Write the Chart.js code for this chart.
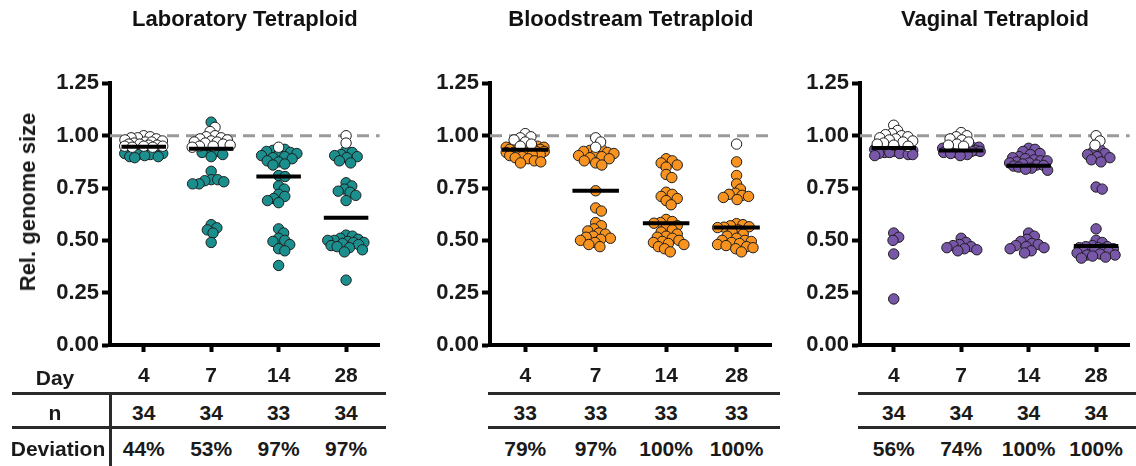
<!DOCTYPE html>
<html>
<head>
<meta charset="utf-8">
<script src="https://cdn.jsdelivr.net/npm/chart.js@4.4.1/dist/chart.umd.min.js"></script>
<style>
  body { margin: 0; background: #fff; }
  #wrap { position: relative; width: 1136px; height: 466px; overflow: hidden;
          font-family: "Liberation Sans", Arial, sans-serif; color: #1a1a1a; }
  #wrap canvas { position: absolute; top: 0; }
  .cell { position: absolute; font-weight: bold; font-size: 21px; white-space: nowrap;
          transform: translate(-50%, -50%); line-height: 1; }
  .rule { position: absolute; background: #2a2a2a; }
  .ytitle { position: absolute; font-weight: bold; font-size: 22px; white-space: nowrap;
            transform: translate(-50%, -50%) rotate(-90deg); line-height: 1; }
</style>
</head>
<body>
<div id="wrap">
  <canvas id="lab" width="386" height="392" style="left:0px"></canvas>
  <canvas id="blood" width="378" height="392" style="left:400px"></canvas>
  <canvas id="vag" width="366" height="392" style="left:770px"></canvas>
</div>
<script>
// sampling days and y ticks
const days = ['4', '7', '14', '28'];
const yTicks = [0, 0.25, 0.5, 0.75, 1.0, 1.25];

// Laboratory: white = euploid-like, coloured = shifted genome size
const labNormal = [
  [1.00, 0.995, 0.99, 0.99, 0.985, 0.98, 0.975, 0.97, 0.97, 0.965, 0.96, 0.96, 0.955, 0.955, 0.95, 0.95, 0.95, 0.945, 0.945],
  [1.04, 1.02, 1.00, 0.995, 0.99, 0.985, 0.98, 0.975, 0.97, 0.97, 0.965, 0.96, 0.955, 0.95, 0.95, 0.945],
  [0.945],
  [1.00, 0.965]
];
const labShifted = [
  [0.94, 0.935, 0.93, 0.93, 0.925, 0.92, 0.92, 0.915, 0.915, 0.91, 0.91, 0.905, 0.90, 0.90, 0.895],
  [1.065, 0.93, 0.925, 0.92, 0.91, 0.90, 0.83, 0.79, 0.79, 0.785, 0.78, 0.77, 0.77, 0.575, 0.56, 0.55, 0.535, 0.49],
  [0.935, 0.93, 0.925, 0.92, 0.915, 0.91, 0.905, 0.90, 0.895, 0.89, 0.88, 0.875, 0.865, 0.86, 0.81, 0.805,
   0.76, 0.745, 0.72, 0.71, 0.70, 0.69, 0.68, 0.555, 0.535, 0.51, 0.50, 0.495, 0.48, 0.46, 0.45, 0.38],
  [0.93, 0.92, 0.91, 0.905, 0.90, 0.895, 0.88, 0.87, 0.775, 0.76, 0.745, 0.735, 0.73, 0.715, 0.69,
   0.525, 0.52, 0.51, 0.505, 0.50, 0.50, 0.495, 0.49, 0.49, 0.485, 0.48, 0.475, 0.47, 0.465, 0.455, 0.445, 0.31]
];
const labN = [34, 34, 33, 34];
const labDeviation = ['44%', '53%', '97%', '97%'];

// Bloodstream
const bloodNormal = [
  [1.01, 0.995, 0.99, 0.98, 0.97, 0.96, 0.95],
  [0.99, 0.97, 0.945],
  [],
  [0.96]
];
const bloodShifted = [
  [0.95, 0.95, 0.945, 0.945, 0.94, 0.94, 0.94, 0.935, 0.935, 0.933, 0.93, 0.925, 0.925, 0.92, 0.92, 0.915,
   0.915, 0.91, 0.91, 0.905, 0.90, 0.895, 0.89, 0.88, 0.875, 0.87],
  [0.935, 0.93, 0.925, 0.92, 0.915, 0.91, 0.905, 0.90, 0.895, 0.89, 0.88, 0.87, 0.86, 0.737, 0.655, 0.64,
   0.585, 0.57, 0.555, 0.545, 0.535, 0.53, 0.52, 0.515, 0.51, 0.505, 0.50, 0.49, 0.48, 0.47],
  [0.89, 0.88, 0.87, 0.86, 0.85, 0.815, 0.80, 0.73, 0.72, 0.71, 0.70, 0.69, 0.67, 0.60, 0.59, 0.585, 0.582,
   0.57, 0.56, 0.55, 0.54, 0.53, 0.52, 0.515, 0.51, 0.50, 0.495, 0.49, 0.485, 0.48, 0.47, 0.46, 0.445],
  [0.875, 0.81, 0.77, 0.745, 0.725, 0.72, 0.715, 0.71, 0.705, 0.695, 0.58, 0.575, 0.57, 0.565, 0.563, 0.561,
   0.55, 0.54, 0.53, 0.52, 0.51, 0.50, 0.50, 0.495, 0.49, 0.485, 0.48, 0.475, 0.47, 0.465, 0.46, 0.445]
];
const bloodN = [33, 33, 33, 33];
const bloodDeviation = ['79%', '97%', '100%', '100%'];

// Vaginal
const vagNormal = [
  [1.05, 1.025, 1.01, 1.005, 1.00, 0.995, 0.99, 0.985, 0.98, 0.975, 0.97, 0.965, 0.96, 0.955, 0.95],
  [1.015, 1.00, 0.995, 0.985, 0.98, 0.97, 0.96, 0.955, 0.95],
  [],
  [1.00, 0.975, 0.955]
];
const vagShifted = [
  [0.945, 0.942, 0.94, 0.935, 0.93, 0.93, 0.925, 0.92, 0.92, 0.915, 0.915, 0.91, 0.91, 0.905,
   0.535, 0.515, 0.50, 0.435, 0.22],
  [0.945, 0.945, 0.94, 0.94, 0.935, 0.935, 0.93, 0.93, 0.928, 0.925, 0.925, 0.92, 0.92, 0.915, 0.91, 0.905,
   0.51, 0.49, 0.48, 0.475, 0.47, 0.465, 0.46, 0.455, 0.45],
  [0.94, 0.935, 0.925, 0.915, 0.91, 0.90, 0.895, 0.89, 0.885, 0.88, 0.88, 0.875, 0.87, 0.87, 0.865, 0.86,
   0.858, 0.855, 0.85, 0.845, 0.84, 0.835,
   0.535, 0.52, 0.505, 0.495, 0.485, 0.48, 0.475, 0.47, 0.465, 0.46, 0.45, 0.44],
  [0.935, 0.925, 0.915, 0.91, 0.90, 0.895, 0.885, 0.875, 0.755, 0.745, 0.555,
   0.50, 0.49, 0.475, 0.47, 0.47, 0.465, 0.465, 0.46, 0.46, 0.455, 0.45, 0.45, 0.445, 0.44, 0.435, 0.43,
   0.43, 0.425, 0.42, 0.415]
];
const vagN = [34, 34, 34, 34];
const vagDeviation = ['56%', '74%', '100%', '100%'];

const font = '"Liberation Sans", Arial, sans-serif';
Chart.defaults.font.family = font;
Chart.defaults.color = '#1a1a1a';

const wrap = document.getElementById('wrap');

function median(arr) {
  const s = arr.slice().sort((a, b) => a - b);
  const m = Math.floor(s.length / 2);
  return s.length % 2 ? s[m] : (s[m - 1] + s[m]) / 2;
}

// beeswarm with a width cap: returns horizontal pixel offsets
function swarm(values, pxY, dist, maxHalf) {
  const order = values.map((v, i) => i).sort((a, b) => values[b] - values[a]);
  const placed = [];
  const out = new Array(values.length);
  order.forEach(i => {
    const y = values[i] * pxY;
    const near = placed.filter(p => Math.abs(p.y - y) < dist);
    const cands = [0];
    near.forEach(p => {
      const dx = Math.sqrt(dist * dist - (p.y - y) * (p.y - y));
      cands.push(p.x + dx, p.x - dx);
    });
    cands.sort((a, b) => Math.abs(a) - Math.abs(b));
    let x = cands.find(c => Math.abs(c) <= maxHalf &&
      near.every(p => (p.x - c) ** 2 + (p.y - y) ** 2 >= dist * dist - 0.01));
    if (x === undefined) {
      // no free slot inside the cap: take the roomiest spot
      let best = 0, bestD = -1;
      for (let c = -maxHalf; c <= maxHalf; c += 0.5) {
        const dmin = Math.min(...near.map(p => (p.x - c) ** 2 + (p.y - y) ** 2));
        if (dmin > bestD + 0.01) { bestD = dmin; best = c; }
      }
      x = best;
    }
    placed.push({ x, y });
    out[i] = x;
  });
  return out;
}

function cell(text, x, y) {
  const d = document.createElement('div');
  d.className = 'cell';
  d.textContent = text;
  d.style.left = x + 'px';
  d.style.top = y + 'px';
  wrap.appendChild(d);
}

function rule(x, y, w, h) {
  const d = document.createElement('div');
  d.className = 'rule';
  d.style.left = x + 'px';
  d.style.top = y + 'px';
  d.style.width = w + 'px';
  d.style.height = h + 'px';
  wrap.appendChild(d);
}

function buildPanel(p) {
  const medians = days.map((d, i) => median(p.normal[i].concat(p.shifted[i])));
  const datasets = [];
  medians.forEach((m, i) => datasets.push({
    type: 'line', data: [{ x: i - 0.33, y: m }, { x: i + 0.33, y: m }],
    borderColor: '#000', borderWidth: 4, pointRadius: 0, order: 0
  }));
  datasets.push({
    type: 'scatter', data: p.normal.flatMap((vals, i) => vals.map(v => ({ x: i, y: v }))),
    backgroundColor: '#fff', borderColor: '#1e1e1e', borderWidth: 1, pointRadius: 5.2, order: 1
  });
  datasets.push({
    type: 'scatter', data: p.shifted.flatMap((vals, i) => vals.map(v => ({ x: i, y: v }))),
    backgroundColor: p.color, borderColor: '#1e1e1e', borderWidth: 1, pointRadius: 5.2, order: 2
  });
  // expected genome size reference
  datasets.push({
    type: 'line', data: [{ x: -0.5, y: 1 }, { x: 3.5, y: 1 }],
    borderColor: '#9a9a9a', borderWidth: 3, borderDash: [12, 7], pointRadius: 0, order: 3
  });

  const chart = new Chart(document.getElementById(p.id), {
    type: 'scatter',
    data: { datasets },
    options: {
      responsive: false,
      animation: false,
      events: [],
      layout: { padding: 0 },
      plugins: {
        legend: { display: false },
        tooltip: { enabled: false },
        title: {
          display: true, text: p.title, fullSize: false, color: '#111',
          font: { size: 22, weight: 'bold' }, padding: { top: 7, bottom: 50 }
        }
      },
      scales: {
        x: {
          type: 'linear', min: -0.5, max: 3.5,
          afterFit: s => { s.height = 47; },
          afterBuildTicks: s => { s.ticks = days.map((d, i) => ({ value: i })); },
          ticks: { callback: v => days[v], font: { size: 21, weight: 'bold' }, color: '#1a1a1a', padding: 12 },
          grid: { drawOnChartArea: false, tickLength: 7, tickWidth: 4, tickColor: '#000' },
          border: { color: '#000', width: 4 }
        },
        y: {
          min: 0, max: 1.25,
          afterFit: s => { s.width = p.yWidth; },
          afterBuildTicks: s => { s.ticks = yTicks.map(v => ({ value: v })); },
          ticks: { callback: v => v.toFixed(2), font: { size: 22, weight: 'bold' }, color: '#1a1a1a', padding: 3 },
          grid: { drawOnChartArea: false, tickLength: 8, tickWidth: 4, tickColor: '#000' },
          border: { color: '#000', width: 4 }
        }
      }
    }
  });

  // spread the points of each day sideways
  const xs = chart.scales.x, ys = chart.scales.y;
  const pxX = xs.getPixelForValue(1) - xs.getPixelForValue(0);
  const pxY = ys.getPixelForValue(0) - ys.getPixelForValue(1);
  const normalPts = [], shiftedPts = [];
  days.forEach((d, i) => {
    const all = p.normal[i].concat(p.shifted[i]);
    const off = swarm(all, pxY, 6.5, 19);
    all.forEach((v, k) => {
      const pt = { x: i + off[k] / pxX, y: v };
      (k < p.normal[i].length ? normalPts : shiftedPts).push(pt);
    });
  });
  chart.data.datasets[4].data = normalPts;
  chart.data.datasets[5].data = shiftedPts;
  chart.update('none');

  // table under the axis
  const cols = days.map((d, i) => p.left + xs.getPixelForValue(i));
  cols.forEach((x, i) => {
    cell(String(p.n[i]), x, 412);
    cell(p.deviation[i], x, 448);
  });
  rule(p.ruleFrom, 392, p.ruleTo - p.ruleFrom, 3);
  rule(p.ruleFrom, 426, p.ruleTo - p.ruleFrom, 3);
  return chart;
}

buildPanel({ id: 'lab', left: 0, yWidth: 110, title: 'Laboratory Tetraploid', color: '#1b8e8e',
  normal: labNormal, shifted: labShifted, n: labN, deviation: labDeviation, ruleFrom: 12, ruleTo: 386 });
buildPanel({ id: 'blood', left: 400, yWidth: 90, title: 'Bloodstream Tetraploid', color: '#f7931e',
  normal: bloodNormal, shifted: bloodShifted, n: bloodN, deviation: bloodDeviation, ruleFrom: 488, ruleTo: 780 });
buildPanel({ id: 'vag', left: 770, yWidth: 90, title: 'Vaginal Tetraploid', color: '#7856a8',
  normal: vagNormal, shifted: vagShifted, n: vagN, deviation: vagDeviation, ruleFrom: 858, ruleTo: 1136 });

// row headings and y title of the first panel
cell('Day', 55, 377);
cell('n', 55, 412);
cell('Deviation', 58, 448);
rule(109, 392, 3, 74);
const yt = document.createElement('div');
yt.className = 'ytitle';
yt.textContent = 'Rel. genome size';
yt.style.left = '28px';
yt.style.top = '202px';
wrap.appendChild(yt);
</script>
</body>
</html>
